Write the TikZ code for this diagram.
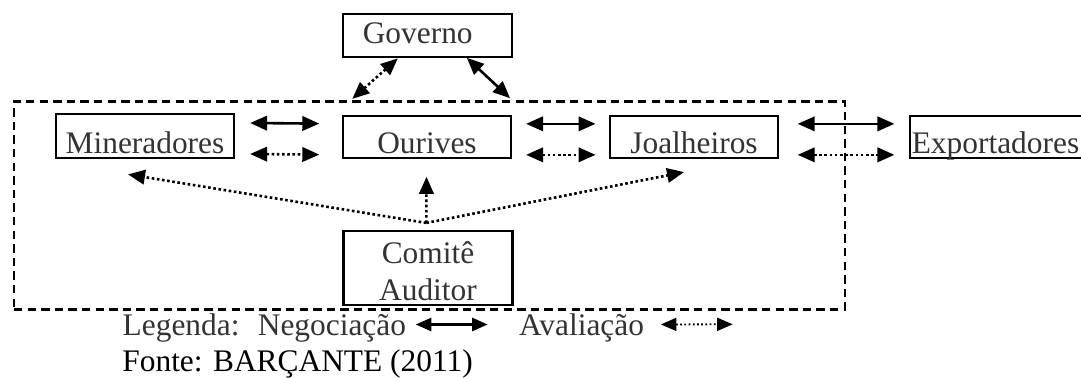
\documentclass[tikz,border=0pt]{standalone}
\usepackage{fontspec}
\setmainfont{Liberation Serif}
\usetikzlibrary{arrows.meta,calc,positioning}

\begin{document}
\begin{tikzpicture}[x=0.5pt,y=-0.5pt,>={Triangle[length=8.5pt,width=7.2pt]},
  every node/.style={font=\fontsize{15.7pt}{18.5pt}\selectfont,text=black!80},
  box/.style={draw,line width=1.1pt,inner sep=0pt},
  neg/.style={<->,line width=1.3pt},
  aval/.style={<->,line width=1.3pt,dash pattern=on 1.3pt off 1.3pt}]
\useasboundingbox (0,0) rectangle (1081,378);

%Governo
\node[box,text height=14.5pt,text depth=6.7pt,inner xsep=9.85pt,text width=64.8pt,
  align=left,anchor=base west] (gov) at (342,43.3) {Governo};

%grupo
\node[draw,line width=1.1pt,dash pattern=on 4.2pt off 2.6pt,minimum width=415.5pt,
  minimum height=104pt,inner sep=0pt] (grp) at (429.5,205.5) {};

%Mineradores-Ourives-Joalheiros
\node[box,text height=19.65pt,text depth=2.2pt,minimum width=89pt,anchor=base] (min) at (145,153.3) {Mineradores};
\node[box,text height=18.65pt,text depth=2.2pt,minimum width=84pt,anchor=base] (our) at (427,153.3) {Ourives};
\node[box,text height=18.65pt,text depth=2.2pt,minimum width=84pt,anchor=base] (joa) at (694,153.3) {Joalheiros};
% outside part
\node[box,text height=18.65pt,text depth=2.2pt,text width=95pt,inner xsep=0.85pt,align=left,
  anchor=base west] (exp) at (909,153.3) {Exportadores};

%Comite
\node[box,minimum width=84.5pt,minimum height=37pt,align=center] (com) at (428,268)
  {\rule{0pt}{14.5pt}Comitê\\Auditor};

% arrows in the row
\foreach \a/\b/\s/\t in {min/our/7.5pt/11.3pt,our/joa/7pt/6.7pt,joa/exp/9.3pt/7.3pt}{
\draw[neg,shorten <=\s,shorten >=\t]
($(\a.east)+(0,-13)$) -- ($(\b.west)+(0,-13)$);
\draw[aval,shorten <=\s,shorten >=\t]
($(\a.east)+(0,18)$) -- ($(\b.west)+(0,18)$);
}

% up to Governo
\draw[aval] ($(gov.south)+(-29.8,0.6)$) -- ($(grp.north)+(-77.2,-1.5)$);
\draw[neg] ($(gov.south)+(39.2,0)$) -- ($(grp.north)+(80.5,-2.2)$);

% from Comite
\coordinate (jn) at ($(com.north)+(-1.7,-7)$);
\foreach \t/\dx/\dy in {min/-17/15.6,our/-0.5/18,joa/-10/13.3}
\draw[aval,->] (jn) -- ($(\t.south)+(\dx,\dy)$);

%Legenda
\node[anchor=base west,inner sep=0pt] (leg) at (122.3,335.5) {Legenda:~ Negociação};
\node[anchor=base west,inner sep=0pt] (ava) at (518.7,335.5) {Avaliação};
\coordinate (avaend) at (732.7,324.3);
\begin{scope}[>={Triangle[length=7.8pt,width=6.5pt]}]
\draw[neg,shorten <=4.65pt,shorten >=15.5pt]
($(leg.base east)+(0,-11)$) -- ($(ava.base west)+(0,-11)$);
\draw[aval,line width=0.9pt,dash pattern=on 0.9pt off 1.2pt,shorten <=8.2pt]
($(ava.base east)+(0,-11)$) -- (avaend);
\end{scope}
\node[anchor=base west,inner sep=0pt,text=black] (fon) at (122,371.7) {Fonte: BARÇANTE (2011)};

\end{tikzpicture}
\end{document}
